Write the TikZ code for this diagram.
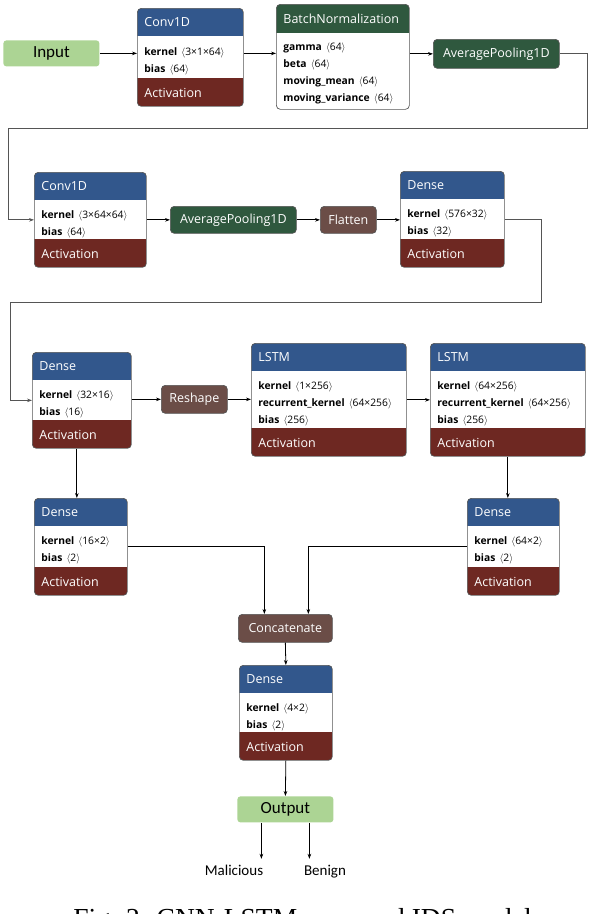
\documentclass[tikz,border=0pt]{standalone}
\usepackage{fontspec}
\newfontfamily\segoe{Open Sans}
\newfontfamily\calib{Carlito}
\newfontfamily\capfont{Liberation Serif}
\usetikzlibrary{arrows.meta}
\definecolor{hdblue}{RGB}{50,87,140}
\definecolor{actred}{RGB}{110,40,34}
\definecolor{dkgreen}{RGB}{47,88,62}
\definecolor{opbrown}{RGB}{107,77,71}
\definecolor{iogreen}{RGB}{172,212,148}
\definecolor{edge}{RGB}{85,85,85}

\begin{document}
\begin{tikzpicture}[x=1pt, y=-1pt, >={Stealth[length=5pt,width=3.6pt]}, line width=0.8pt,
    layer/.style={draw=edge, line width=0.7pt, rounded corners=4pt, anchor=north west, inner sep=0pt,
      path picture={
        \fill[#1, sharp corners] (path picture bounding box.north west) rectangle ([yshift=-28pt]path picture bounding box.north east);
        \fill[actred, sharp corners] ([yshift=28pt]path picture bounding box.south west) rectangle (path picture bounding box.south east);}},
    layer/.default=hdblue,
    bnlayer/.style={draw=edge, line width=0.7pt, rounded corners=4pt, anchor=north west, inner sep=0pt,
      path picture={
        \fill[dkgreen, sharp corners] (path picture bounding box.north west) rectangle ([yshift=-29pt]path picture bounding box.north east);}},
    hd/.style={font=\segoe\fontsize{12.5}{15}\selectfont, text=white, anchor=west, inner sep=0pt},
    act/.style={hd},
    bd/.style={font=\segoe\fontsize{10.3}{17}\selectfont, align=left, anchor=north west, inner sep=0pt},
    op/.style={draw=edge, line width=0.7pt, rounded corners=4pt, anchor=north west, text=white,
      font=\segoe\fontsize{12.5}{15}\selectfont, inner sep=0pt, minimum height=27pt},
    io/.style={fill=iogreen, rounded corners=3pt, anchor=north west, inner sep=0pt,
      font=\calib\fontsize{17}{19}\selectfont},
    lbl/.style={font=\calib\fontsize{15}{17}\selectfont, inner sep=1pt, anchor=base}]
  \useasboundingbox (0,0) rectangle (590,914);

  % first row
  \node[io, minimum width=96pt, minimum height=26pt] (in) at (3,40) {Input};
  \node[layer, minimum width=106pt, minimum height=98pt] (c1) at (137,8) {};
  \node[bnlayer, minimum width=133pt, minimum height=105pt] (bn) at (276,4) {};
  \node[op, fill=dkgreen, minimum width=126pt, minimum height=29pt] (ap1) at (433,39) {AveragePooling1D};

  % second row
  \node[layer, minimum width=112pt, minimum height=95pt] (c2) at (34,172) {};
  \node[op, fill=dkgreen, minimum width=126pt] (ap2) at (170,206) {AveragePooling1D};
  \node[op, fill=opbrown, minimum width=56pt] (fl) at (320,206) {Flatten};
  \node[layer, minimum width=104pt, minimum height=96pt] (d1) at (400,171) {};

  % third row
  \node[layer, minimum width=99pt, minimum height=96pt] (d2) at (32,352) {};
  \node[op, fill=opbrown, minimum width=66pt, minimum height=28pt] (rs) at (161,385) {Reshape};
  \node[layer, minimum width=155pt, minimum height=113pt] (l1) at (251,343) {};
  \node[layer, minimum width=155pt, minimum height=113pt] (l2) at (430,343) {};

  % output branch
  \node[layer, minimum width=93pt, minimum height=97pt] (d3) at (34,498) {};
  \node[layer, minimum width=92pt, minimum height=97pt] (d4) at (467,498) {};
  \node[op, fill=opbrown, minimum width=94pt, minimum height=28pt] (cc) at (238,614) {Concatenate};
  \node[layer, minimum width=93pt, minimum height=95pt] (d5) at (239,665) {};
  \node[io, minimum width=96pt, minimum height=26pt] (out) at (237,796) {Output};
  \node[lbl] (mal) at (234,875) {Malicious};
  \node[lbl] (ben) at (325,875) {Benign};

  % titles and activations
  \node[hd] (bn-h) at ([xshift=7pt,yshift=-14.5pt]bn.north west) {BatchNormalization};
  \foreach \n/\t in {c1/Conv1D, c2/Conv1D, d1/Dense, d2/Dense, l1/LSTM, l2/LSTM, d3/Dense, d4/Dense, d5/Dense}
    \node[hd] (\n-h) at ([xshift=7pt,yshift=-14pt]\n.north west) {\t};
  \foreach \n in {c1, c2, d1, d2, l1, l2, d3, d4, d5}
    \node[act] (\n-a) at ([xshift=7pt,yshift=14pt]\n.south west) {Activation};

  % weights
  \node[bd] (c1-b) at ([xshift=7pt,yshift=-39.5pt]c1.north west) {\textbf{kernel}\hspace{0.4em}$\langle$3×1×64$\rangle$\\ \textbf{bias}\hspace{0.4em}$\langle$64$\rangle$};
  \node[bd] (bn-b) at ([xshift=7pt,yshift=-39pt]bn.north west) {\textbf{gamma}\hspace{0.4em}$\langle$64$\rangle$\\ \textbf{beta}\hspace{0.4em}$\langle$64$\rangle$\\ \textbf{moving\_mean}\hspace{0.4em}$\langle$64$\rangle$\\ \textbf{moving\_variance}\hspace{0.4em}$\langle$64$\rangle$};
  \node[bd] (c2-b) at ([xshift=7pt,yshift=-38.5pt]c2.north west) {\textbf{kernel}\hspace{0.4em}$\langle$3×64×64$\rangle$\\ \textbf{bias}\hspace{0.4em}$\langle$64$\rangle$};
  \node[bd] (d1-b) at ([xshift=7pt,yshift=-38.5pt]d1.north west) {\textbf{kernel}\hspace{0.4em}$\langle$576×32$\rangle$\\ \textbf{bias}\hspace{0.4em}$\langle$32$\rangle$};
  \node[bd] (d2-b) at ([xshift=7pt,yshift=-38.5pt]d2.north west) {\textbf{kernel}\hspace{0.4em}$\langle$32×16$\rangle$\\ \textbf{bias}\hspace{0.4em}$\langle$16$\rangle$};
  \node[bd] (l1-b) at ([xshift=7pt,yshift=-38.5pt]l1.north west) {\textbf{kernel}\hspace{0.4em}$\langle$1×256$\rangle$\\ \textbf{recurrent\_kernel}\hspace{0.4em}$\langle$64×256$\rangle$\\ \textbf{bias}\hspace{0.4em}$\langle$256$\rangle$};
  \node[bd] (l2-b) at ([xshift=7pt,yshift=-38.5pt]l2.north west) {\textbf{kernel}\hspace{0.4em}$\langle$64×256$\rangle$\\ \textbf{recurrent\_kernel}\hspace{0.4em}$\langle$64×256$\rangle$\\ \textbf{bias}\hspace{0.4em}$\langle$256$\rangle$};
  \node[bd] (d3-b) at ([xshift=7pt,yshift=-38.5pt]d3.north west) {\textbf{kernel}\hspace{0.4em}$\langle$16×2$\rangle$\\ \textbf{bias}\hspace{0.4em}$\langle$2$\rangle$};
  \node[bd] (d4-b) at ([xshift=7pt,yshift=-38.5pt]d4.north west) {\textbf{kernel}\hspace{0.4em}$\langle$64×2$\rangle$\\ \textbf{bias}\hspace{0.4em}$\langle$2$\rangle$};
  \node[bd] (d5-b) at ([xshift=7pt,yshift=-38.5pt]d5.north west) {\textbf{kernel}\hspace{0.4em}$\langle$4×2$\rangle$\\ \textbf{bias}\hspace{0.4em}$\langle$2$\rangle$};

  % connectors
  \draw[->] (in.east) -- (in.east -| c1.west);
  \draw[->] (c1.east |- in) -- (bn.west |- in);
  \draw[->] (bn.east |- ap1) -- (ap1.west);
  \draw[->, edge] (ap1.east) -- ++(28,0) -- ++(0,75) -| ([xshift=-26pt]c2.west) -- (c2.west);
  \draw[->] (c2.east |- ap2) -- (ap2.west);
  \draw[->] (ap2.east) -- (fl.west);
  \draw[->] (fl.east) -- (fl.east -| d1.west);
  \draw[->, edge] (d1.east) -- ++(37,0) -- ++(0,83) -| ([xshift=-22pt]d2.west) -- (d2.west);
  \draw[->] (rs.west -| d2.east) -- (rs.west);
  \draw[->] (rs.east) -- (rs.east -| l1.west);
  \draw[->] (l1.east) -- (l2.west);
  \draw[->] ([xshift=-5pt]d2.south) -- ([xshift=-5pt]d2.south |- d3.north);
  \draw[->] (l2.south) -- (l2.south |- d4.north);
  \draw[->] (d3.east) -| ([xshift=-21pt]cc.north);
  \draw[->] (d4.west) -| ([xshift=23pt]cc.north);
  \draw[->] (cc.south) -- (d5.north);
  \draw[->] (d5.south) -- (out.north);
  \draw[->] ([xshift=-24pt]out.south) -- ++(0,36);
  \draw[->] ([xshift=24pt]out.south) -- ++(0,36);

  % caption, cut by the page edge
  \node[font=\capfont\fontsize{27.5}{30}\selectfont, anchor=base west, inner sep=0pt] (cap) at (73,927) {Fig. 2: CNN-LSTM proposed IDS model};
\end{tikzpicture}
\end{document}
